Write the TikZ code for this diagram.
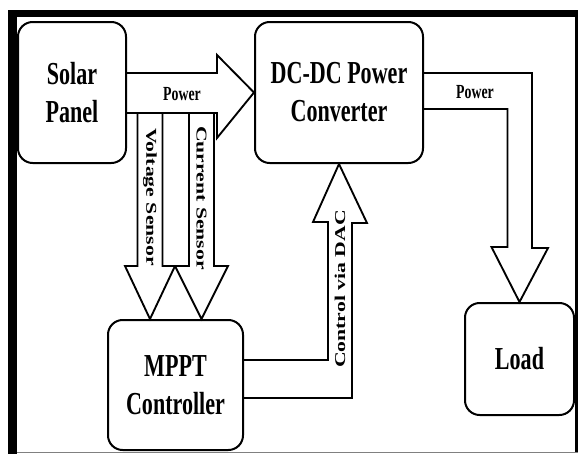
\documentclass[tikz,border=0pt]{standalone}
\usepackage{fontspec}
\usepackage{tikz}
\usetikzlibrary{calc}
\newfontfamily\boxfont{Liberation Serif}[FakeStretch=0.69]
\newfontfamily\sidefont{Liberation Serif}[FakeStretch=1.45]

\begin{document}
\begin{tikzpicture}[x=0.75pt, y=-0.75pt,
        block/.style={draw, line width=1.5pt, rounded corners=11pt, inner sep=0pt, align=center,
            font=\boxfont\bfseries\fontsize{24}{28.5}\selectfont},
        fatarrow/.style={draw, line width=1.4pt},
        flowlabel/.style={inner sep=0pt, font=\boxfont\bfseries\fontsize{15}{17}\selectfont},
        sidelabel/.style={inner sep=0pt, font=\sidefont\bfseries\fontsize{11.25}{13}\selectfont}]

        \useasboundingbox (0,0) rectangle (581,454);

        \fill[black] (8,10) rectangle (578,17);
        \fill[black] (8,10) rectangle (17,454);
        \draw[black, line width=2.25pt] (576.5,10) -- (576.5,452);
        \draw[gray, line width=1.2pt] (17,452.5) -- (578,452.5);

        \node[block, minimum width=81pt, minimum height=105.75pt] (solar) at (72,92.5) {Solar\\Panel};
        \node[block, minimum width=126pt, minimum height=105.75pt] (dcdc) at (339,92.5) {DC-DC Power\\Converter};
        \node[block, minimum width=101.25pt, minimum height=97.5pt] (mppt) at (175.5,385) {MPPT\\Controller};
        \node[block, minimum width=81.75pt, minimum height=84pt] (load) at (519.5,359) {Load};

        \coordinate (vtip) at ($(mppt.north)+(-25.5,0)$);
        \coordinate (ctip) at ($(mppt.north)+(26,0)$);

        \draw[fatarrow] ($(solar.east)+(0,-19.5)$) -- ($(dcdc.west)+(-37,-19.5)$) -- ($(dcdc.west)+(-37,-37.5)$)
            -- (dcdc.west) -- ($(dcdc.west)+(-37,45.5)$) -- ($(dcdc.west)+(-37,20.5)$) -- ($(solar.east)+(0,20.5)$);
        \node[flowlabel] (pwrin) at ($(solar.east)+(55,2)$) {Power};

        \draw[fatarrow] ($(vtip)+(-12.5,-207)$) -- ++(0,154) -- ++(-12.5,0) -- (vtip) -- ++(25,-53) -- ++(-12.5,0) -- ++(0,-154);
        \node[sidelabel, rotate=-90] (vsense) at ($(vtip)+(0,-122)$) {Voltage Sensor};

        \draw[fatarrow] ($(ctip)+(-12.5,-207)$) -- ++(0,154) -- ++(-14,0) -- (ctip) -- ++(26.5,-53) -- ++(-14,0) -- ++(0,-154);
        \node[sidelabel, rotate=-90] (csense) at ($(ctip)+(0,-121)$) {Current Sensor};

        \draw[fatarrow] ($(mppt.east)+(0,-25)$) -- ++(84,0) -- ++(0,-138) -- ++(-15,0) -- (dcdc.south)
            -- ++(28,59) -- ++(-15,0) -- ++(0,175) -- ++(-109,0);
        \node[sidelabel, rotate=90] (dac) at ($(dcdc.south)+(1,125)$) {Control via DAC};

        \draw[fatarrow] ($(dcdc.east)+(0,-19.5)$) -- ++(108,0) -- ++(0,175) -- ++(16,0) -- (load.north)
            -- ++(-28,-55) -- ++(16,0) -- ++(0,-138) -- ++(-84.5,0);
        \node[flowlabel] (pwrout) at ($(dcdc.east)+(51,0)$) {Power};

    \end{tikzpicture}
\end{document}
